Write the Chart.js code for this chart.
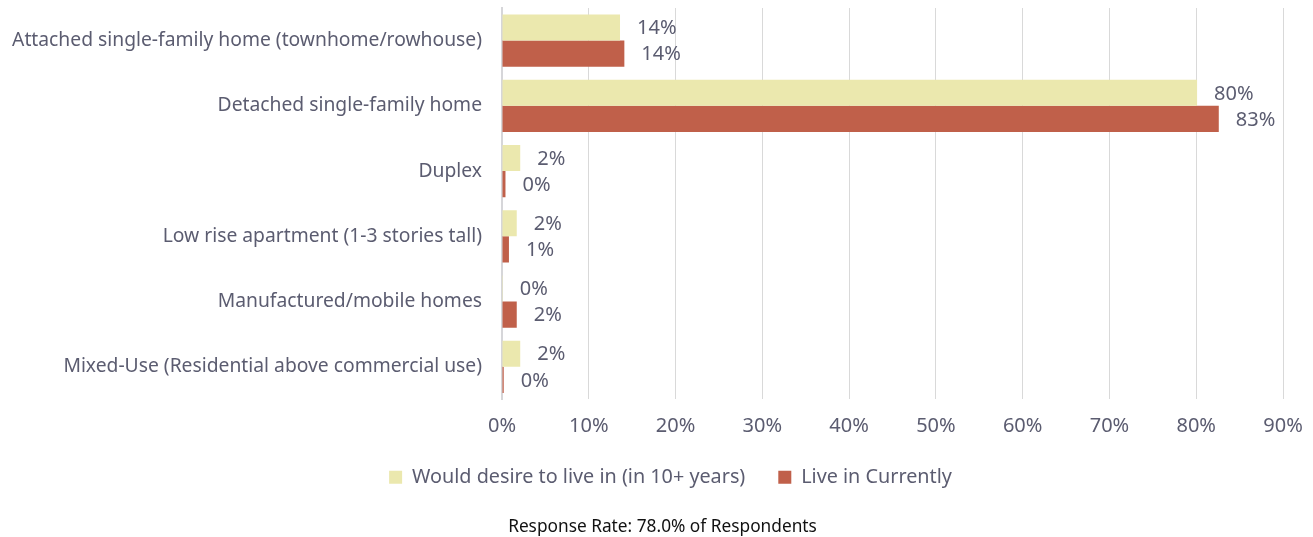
<!DOCTYPE html>
<html lang="en">

<head>
    <meta charset="UTF-8" />
    <title>Housing types</title>
    <script src="https://cdn.jsdelivr.net/npm/chart.js"></script>
    <style>
        body { margin: 0; background: #fff; }
        #wrap { width: 1313px; height: 537px; }
    </style>
</head>

<body>
    <div id="wrap"><canvas id="chart"></canvas></div>
    <script>
        const categories = [
            "Attached single-family home (townhome/rowhouse)",
            "Detached single-family home",
            "Duplex",
            "Low rise apartment (1-3 stories tall)",
            "Manufactured/mobile homes",
            "Mixed-Use (Residential above commercial use)",
        ];
        const desireValues = [13.6, 80.1, 2.1, 1.7, 0.1, 2.1];
        const currentValues = [14.1, 82.6, 0.4, 0.8, 1.7, 0.2];
        const seriesNames = ["Would desire to live in (in 10+ years)", "Live in Currently"];

        const textColor = "#5b5c70";
        const fontFamily = "'Noto Sans', sans-serif";

        // value labels to the right of each bar
        const barLabels = {
            id: "barLabels",
            afterDatasetsDraw(chart) {
                const ctx = chart.ctx;
                ctx.save();
                ctx.font = "20px " + fontFamily;
                ctx.fillStyle = textColor;
                ctx.textBaseline = "middle";
                ctx.textAlign = "left";
                chart.data.datasets.forEach((ds, i) => {
                    chart.getDatasetMeta(i).data.forEach((bar, j) => {
                        ctx.fillText(Math.round(ds.data[j]) + "%", bar.x + 17, bar.y + 1);
                    });
                });
                ctx.restore();
            },
        };

        // center legend and footer a bit right of the canvas middle
        const shiftBottomBoxes = {
            id: "shiftBottomBoxes",
            afterLayout(chart) {
                if (chart.legend) { chart.legend.left += 29; chart.legend.right += 29; }
                if (chart.titleBlock) { chart.titleBlock.left += 21; chart.titleBlock.right += 21; }
            },
        };

        new Chart(document.getElementById("chart"), {
            type: "bar",
            data: {
                labels: categories,
                datasets: [
                    {
                        label: seriesNames[0],
                        data: desireValues,
                        backgroundColor: "#ebe8ae",
                        categoryPercentage: 0.8,
                        barPercentage: 1,
                    },
                    {
                        label: seriesNames[1],
                        data: currentValues,
                        backgroundColor: "#c0604a",
                        categoryPercentage: 0.8,
                        barPercentage: 1,
                    },
                ],
            },
            options: {
                indexAxis: "y",
                responsive: true,
                maintainAspectRatio: false,
                animation: false,
                layout: { padding: { top: 8, right: 30, left: 0, bottom: 0 } },
                scales: {
                    x: {
                        min: 0,
                        max: 90,
                        ticks: {
                            stepSize: 10,
                            padding: 15,
                            color: textColor,
                            font: { family: fontFamily, size: 20 },
                            callback: (v) => v + "%",
                        },
                        grid: { color: "#d9d9d9", drawTicks: false },
                        border: { display: false },
                        afterFit: (scale) => {
                            scale.height = 35;
                            scale.paddingLeft = 0;
                            scale.paddingRight = 0;
                        },
                    },
                    y: {
                        ticks: {
                            padding: 20,
                            color: textColor,
                            font: { family: fontFamily, size: 19.3 },
                        },
                        grid: { display: false, drawTicks: false },
                        border: { color: "#d6d6d9", width: 2 },
                        afterFit: (scale) => {
                            scale.width = 502;
                            scale.paddingTop = 0;
                            scale.paddingBottom = 0;
                        },
                    },
                },
                plugins: {
                    legend: {
                        position: "bottom",
                        labels: {
                            boxWidth: 13,
                            boxHeight: 13,
                            padding: 33,
                            color: textColor,
                            font: { family: fontFamily, size: 19.8 },
                        },
                    },
                    title: {
                        display: true,
                        position: "bottom",
                        text: "Response Rate: 78.0% of Respondents",
                        color: "#111",
                        font: { family: fontFamily, size: 17.3, weight: "normal" },
                        padding: { top: 19, bottom: 0 },
                    },
                    tooltip: { enabled: false },
                },
            },
            plugins: [barLabels, shiftBottomBoxes],
        });
    </script>
</body>

</html>
